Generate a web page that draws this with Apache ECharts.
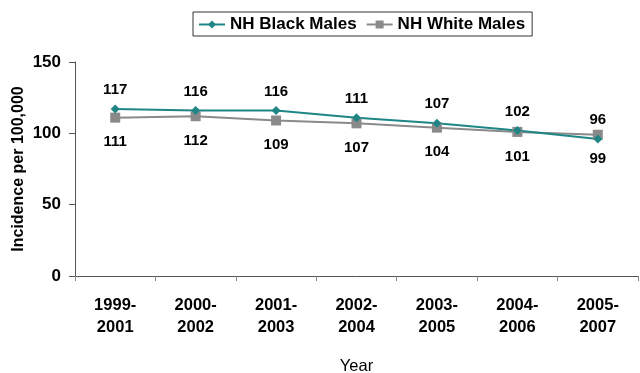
<!DOCTYPE html>
<html><head><meta charset="utf-8">
<script src="https://cdn.jsdelivr.net/npm/echarts@6/dist/echarts.min.js"></script>
<style>html,body{margin:0;padding:0;background:#fff}#c{width:640px;height:373px}</style>
</head><body><div id="c"></div>
<script>
var categories = ['1999-\n2001','2000-\n2002','2001-\n2003','2002-\n2004','2003-\n2005','2004-\n2006','2005-\n2007'];
var blackMales = [117,116,116,111,107,102,96];
var whiteMales = [111,112,109,107,104,101,99];
var yTicks = [0,50,100,150];

var chart = echarts.init(document.getElementById('c'), null, {renderer:'canvas'});
var font = 'Liberation Sans, Arial, sans-serif';
chart.setOption({
  animation:false,
  backgroundColor:'#fff',
  legend:{
    left:193, top:12, padding:[4,7,3,5],
    borderColor:'#333', borderWidth:1,
    itemWidth:26, itemHeight:10, itemGap:9,
    textStyle:{fontFamily:font, fontWeight:'bold', fontSize:17, color:'#000'},
    data:['NH Black Males','NH White Males']
  },
  grid:{left:75, right:2, top:62, bottom:97, containLabel:false, outerBoundsMode:'none'},
  xAxis:{
    type:'category', data:categories, boundaryGap:true,
    name:'Year', nameLocation:'middle', nameGap:82, nameMoveOverlap:false,
    nameTextStyle:{fontFamily:font, fontSize:16.5, color:'#000'},
    axisLine:{lineStyle:{color:'#555', width:1}},
    axisTick:{show:true, length:5, lineStyle:{color:'#888'}},
    axisLabel:{fontFamily:font, fontWeight:'bold', fontSize:16.5, color:'#000', lineHeight:22, margin:18}
  },
  yAxis:{
    type:'value', min:0, max:150, interval:50,
    name:'Incidence per 100,000', nameLocation:'middle', nameGap:48, nameRotate:90, nameMoveOverlap:false,
    nameTextStyle:{fontFamily:font, fontWeight:'bold', fontSize:16, color:'#000'},
    axisLine:{show:true, lineStyle:{color:'#555', width:1}},
    axisTick:{show:true, length:6, lineStyle:{color:'#555'}},
    splitLine:{show:false},
    axisLabel:{fontFamily:font, fontWeight:'bold', fontSize:17, color:'#000', margin:14,
      formatter:function(v){return yTicks.indexOf(v)>=0?String(v):'';}}
  },
  series:[
    {name:'NH White Males', type:'line', data:whiteMales, symbol:'rect', symbolSize:10,
     itemStyle:{color:'#8a8a8a'}, lineStyle:{color:'#8a8a8a', width:2},
     label:{show:true, position:'bottom', distance:12, fontFamily:font, fontWeight:'bold', fontSize:15, color:'#000'}},
    {name:'NH Black Males', type:'line', data:blackMales, symbol:'diamond', symbolSize:9,
     itemStyle:{color:'#1f8585'}, lineStyle:{color:'#1f8585', width:2},
     label:{show:true, position:'top', distance:7, fontFamily:font, fontWeight:'bold', fontSize:15, color:'#000'}}
  ]
});
</script></body></html>
